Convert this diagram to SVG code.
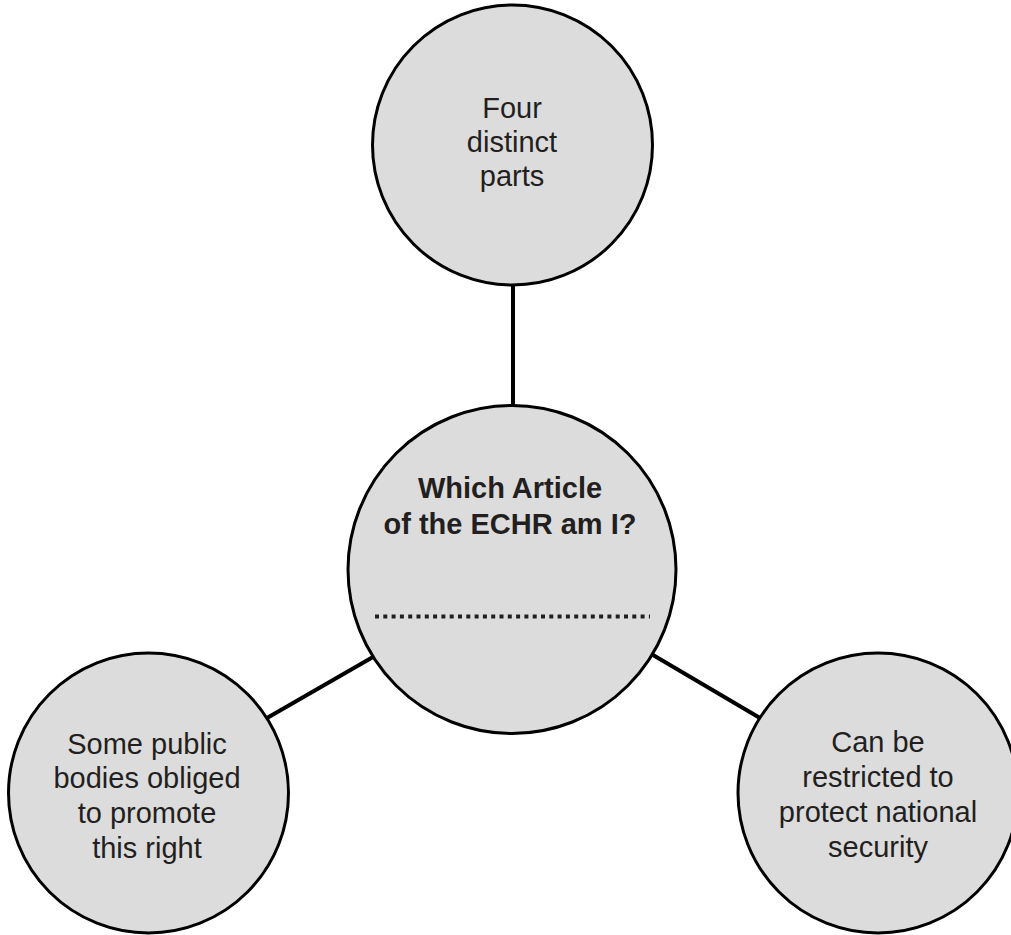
<svg xmlns="http://www.w3.org/2000/svg" width="1011" height="935" viewBox="0 0 1011 935">
<style>
.node{fill:#dcdcdc;stroke:#000;stroke-width:3}
.conn{stroke:#000;stroke-width:4;fill:none}
.t{font-family:"Liberation Sans",Arial,sans-serif;font-size:29px;fill:#231f20;text-anchor:middle}
.b{font-weight:bold}
</style>
<rect width="1011" height="935" fill="#fff"/>
<g id="connectors">
<line class="conn" x1="513" y1="285" x2="513" y2="406"/>
<line class="conn" x1="267" y1="718" x2="373" y2="657"/>
<line class="conn" x1="653" y1="655" x2="760" y2="718"/>
</g>
<g id="top">
<circle class="node" cx="512.5" cy="145" r="140"/>
<text class="t" x="512" y="118">Four</text>
<text class="t" x="512" y="152">distinct</text>
<text class="t" x="512" y="186">parts</text>
</g>
<g id="center">
<circle class="node" cx="512" cy="569.5" r="164"/>
<text class="t b" x="510" y="498">Which Article</text>
<text class="t b" x="510" y="534">of the ECHR am I?</text>
<line x1="375" y1="616.5" x2="650" y2="616.5" stroke="#231f20" stroke-width="4.2" stroke-dasharray="4 4.3"/>
</g>
<g id="left">
<circle class="node" cx="148.5" cy="793" r="140"/>
<text class="t" x="147" y="754">Some public</text>
<text class="t" x="147" y="788">bodies obliged</text>
<text class="t" x="147" y="823">to promote</text>
<text class="t" x="147" y="858">this right</text>
</g>
<g id="right">
<circle class="node" cx="878" cy="793" r="140"/>
<text class="t" x="878" y="752">Can be</text>
<text class="t" x="878" y="787">restricted to</text>
<text class="t" x="878" y="822">protect national</text>
<text class="t" x="878" y="857">security</text>
</g>
</svg>
